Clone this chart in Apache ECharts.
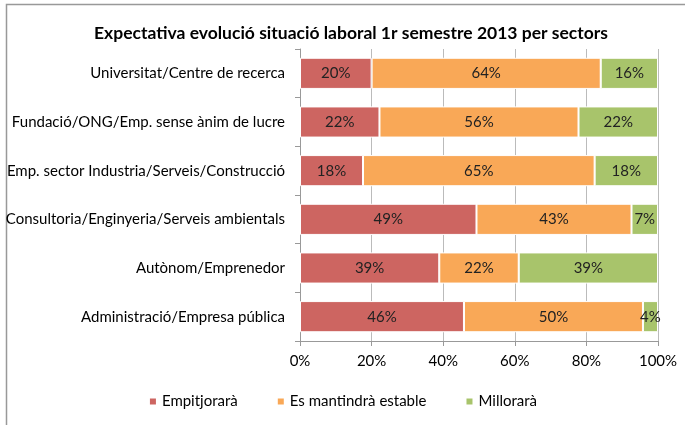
<!DOCTYPE html>
<html>
<head>
<meta charset="utf-8">
<script src="https://cdn.jsdelivr.net/npm/echarts@6/dist/echarts.min.js"></script>
<style>
  html, body { margin: 0; padding: 0; background: #fff; }
  #chart { width: 685px; height: 425px; }
</style>
</head>
<body>
<div id="chart"></div>
<script>
// categories, top to bottom
const sectors = [
  'Universitat/Centre de recerca',
  'Fundació/ONG/Emp. sense ànim de lucre',
  'Emp. sector Industria/Serveis/Construcció',
  'Consultoria/Enginyeria/Serveis ambientals',
  'Autònom/Emprenedor',
  'Administració/Empresa pública'
]
const seriesNames = ['Empitjorarà', 'Es mantindrà estable', 'Millorarà']

// percentages
const empitjorara = [20, 22.2, 17.6, 49.3, 38.9, 45.8]
const estable = [64, 55.6, 64.7, 43.3, 22.2, 50]
const millorara = [16, 22.2, 17.7, 7.4, 38.9, 4.2]

const colors = ['#CD6561', '#F9A857', '#A8C46B']
const font = 'Lato, "Open Sans", sans-serif'

const chart = echarts.init(document.getElementById('chart'))

const makeSeries = (name, data, color) => ({
  name: name,
  type: 'bar',
  stack: 'total',
  barCategoryGap: '36%',
  data: data,
  itemStyle: { color: color, borderColor: '#fff', borderWidth: 1 },
  label: {
    show: true,
    position: 'inside',
    color: '#222',
    fontFamily: font,
    fontSize: 15,
    formatter: p => Math.round(p.value) + '%'
  }
})

const option = {
  animation: false,
  title: {
    text: 'Expectativa evolució situació laboral 1r semestre 2013 per sectors',
    left: 346,
    textAlign: 'center',
    top: 19,
    textStyle: { fontFamily: font, fontSize: 17.5, fontWeight: 'bold', color: '#000' }
  },
  legend: {
    bottom: 11,
    left: 'center',
    icon: 'rect',
    itemWidth: 8,
    itemHeight: 8,
    itemGap: 38,
    textStyle: { fontFamily: font, fontSize: 15, color: '#000' },
    data: seriesNames
  },
  grid: { left: 300, right: 27, top: 49, bottom: 84 },
  xAxis: {
    type: 'value',
    min: 0,
    max: 100,
    interval: 20,
    axisLine: { show: true, lineStyle: { color: '#999' } },
    axisTick: { show: true, length: 5, lineStyle: { color: '#999' } },
    splitLine: { show: true, lineStyle: { color: '#bbb' } },
    axisLabel: { formatter: '{value}%', fontFamily: font, fontSize: 15, color: '#000', margin: 13 }
  },
  yAxis: {
    type: 'category',
    inverse: true,
    data: sectors,
    axisLine: { show: true, lineStyle: { color: '#999' } },
    axisTick: { show: true, length: 5, lineStyle: { color: '#999' } },
    axisLabel: { fontFamily: font, fontSize: 15, color: '#000', margin: 15 }
  },
  graphic: [{
    type: 'rect',
    left: 4,
    top: 2,
    shape: { width: 720, height: 460 },
    style: { fill: 'none', stroke: '#999', lineWidth: 1.5 },
    silent: true
  }],
  series: [
    makeSeries(seriesNames[0], empitjorara, colors[0]),
    makeSeries(seriesNames[1], estable, colors[1]),
    makeSeries(seriesNames[2], millorara, colors[2])
  ]
}

chart.setOption(option)
</script>
</body>
</html>
